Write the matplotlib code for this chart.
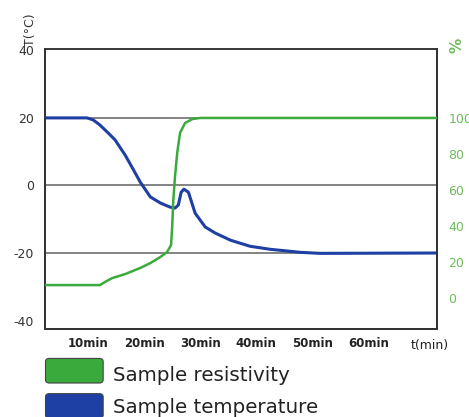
import matplotlib
matplotlib.use('Agg')
import matplotlib.pyplot as plt
from matplotlib.patches import FancyBboxPatch

# time (min) and sample temperature (deg C)
temp_t = [2.3, 8.6, 9.8, 10.9, 12.1, 13.6, 14.8, 16.6, 17.9, 19.3, 21.1, 22.9,
          24.6, 25.5, 26.1, 26.6, 27.1, 27.9, 29.1, 30.9, 32.7, 35.4, 38.9,
          42.5, 47.9, 51.4, 72.3]
temp_v = [20, 20, 20, 19.4, 17.9, 15.5, 13.5, 9.0, 5.2, 1.0, -3.4, -5.2,
          -6.4, -6.7, -5.8, -2.0, -1.1, -2.0, -8.2, -12.3, -14.1, -16.2, -18.0,
          -18.9, -19.8, -20.1, -20]

# time (min) and sample resistivity (%)
res_t = [2.3, 12.1, 13.0, 14.3, 16.6, 19.3, 21.1, 22.9, 24.1, 24.8, 25.0, 25.2,
         25.5, 25.9, 26.4, 27.3, 28.6, 30.0, 72.3]
res_v = [7.2, 7.2, 8.9, 11.1, 13.3, 16.7, 19.4, 22.8, 25.6, 29.4, 39.4, 54.4,
         67.2, 80.6, 91.7, 97.2, 99.4, 100, 100]

x_ticks = [10, 20, 30, 40, 50, 60]
x_labels = ['10min', '20min', '30min', '40min', '50min', '60min']
t_ticks = [-40, -20, 0, 20, 40]
pct_ticks = [0, 20, 40, 60, 80, 100]

BLUE = '#1e3fa3'
GREEN = '#3aaa3c'
LGREEN = '#6dbb5a'

fig = plt.figure(figsize=(4.69, 4.17), dpi=100)
ax = fig.add_axes([0.096, 0.211, 0.836, 0.6715])
ax2 = ax.twinx()

for g in [20, 0, -20]:
    ax.axhline(g, color='#7a7a7a', lw=1.3, zorder=1)

ax.plot(temp_t, temp_v, color=BLUE, lw=2.2, zorder=3, solid_joinstyle='round')
ax2.plot(res_t, res_v, color=GREEN, lw=1.8, zorder=3, solid_joinstyle='round')

ax.set_xlim(2.3, 72.3)
ax.set_ylim(-42.5, 40.4)
ax2.set_ylim(-17.2, 138.3)

ax.set_xticks(x_ticks)
ax.set_xticklabels(x_labels, fontsize=8.5, color='#222222', fontweight='bold')
ax.set_yticks(t_ticks)
ax.set_yticklabels([str(v) for v in t_ticks], fontsize=9, color='#333333')
ax.tick_params(axis='both', length=0, pad=8)
ax.tick_params(axis='x', pad=6)

ax2.set_yticks(pct_ticks)
ax2.set_yticklabels([str(v) for v in pct_ticks], fontsize=9, color=LGREEN)
ax2.tick_params(axis='y', length=0, pad=8)

for a in (ax, ax2):
    for s in a.spines.values():
        s.set_color('#333333')
        s.set_linewidth(1.3)
ax.spines['top'].set_color('#888888')

fig.text(0.064, 0.928, 'T(°C)', rotation=90, fontsize=9, color='#333333',
         ha='center', va='center')
fig.text(0.975, 0.89, '%', rotation=90, fontsize=11, color=LGREEN,
         ha='center', va='center', fontweight='bold')
fig.text(0.917, 0.172, 't(min)', fontsize=9, color='#222222', ha='center', va='center')

# legend
for ybot, ytxt, col, label in [(0.0815, 0.10, GREEN, 'Sample resistivity'),
                               (-0.003, 0.022, BLUE, 'Sample temperature')]:
    fig.patches.append(FancyBboxPatch((0.097, ybot), 0.123, 0.059,
                                      boxstyle='round,pad=0,rounding_size=0.008',
                                      transform=fig.transFigure, facecolor=col,
                                      edgecolor='#444444', lw=0.8))
    fig.text(0.241, ytxt, label, fontsize=14.3, color='#222222',
             ha='left', va='center')

fig.savefig('out.png', dpi=100)
